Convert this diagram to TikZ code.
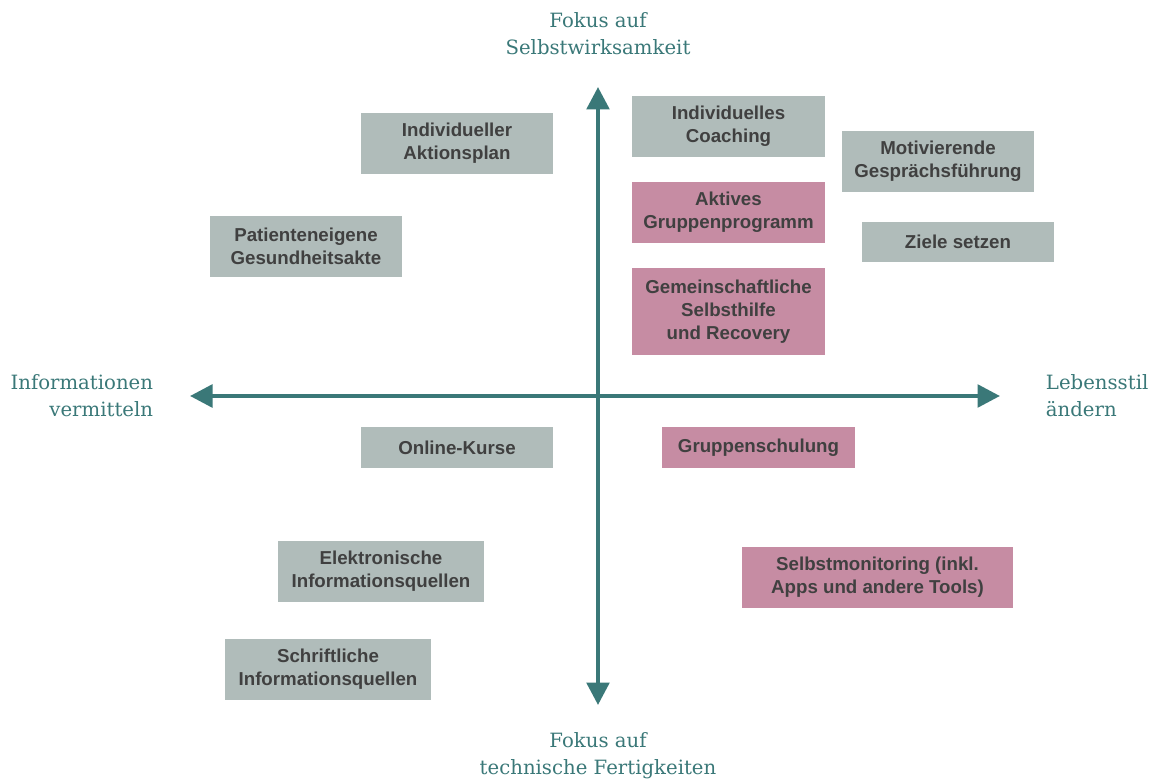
\documentclass[tikz,border=0pt]{standalone}
\usepackage{fontspec}
\setmainfont{Liberation Sans}
\newfontfamily\axisfont{DejaVu Serif}
\usepackage{tikz}
\usetikzlibrary{arrows.meta}
\definecolor{axisteal}{RGB}{58, 120, 120}
\definecolor{infogray}{RGB}{176, 188, 186}
\definecolor{grouppink}{RGB}{198, 140, 163}
\definecolor{labeldark}{RGB}{64, 64, 64}

\begin{document}
\begin{tikzpicture}[x=0.025cm, y=-0.025cm,
  box/.style={rectangle, inner sep=2pt, align=center, text=labeldark,
    font=\fontsize{13.3}{16.5}\selectfont\bfseries, minimum width=4.8cm, minimum height=1.525cm},
  graybox/.style={box, fill=infogray},
  pinkbox/.style={box, fill=grouppink},
  axislabel/.style={text=axisteal, font=\axisfont\fontsize{14}{19}\selectfont},
  axis/.style={line width=3pt, axisteal, -{Triangle[length=16pt, width=16pt]}}]

\useasboundingbox (0,0) rectangle (1158,781);

% Axis origin and ends
\coordinate (origin) at (598,396);
\coordinate (top) at (598,87);
\coordinate (bottom) at (598,705);
\coordinate (left) at (190,396);
\coordinate (right) at (1000,396);

% Axes
\draw[axis] (origin) -- (top);
\draw[axis] (origin) -- (bottom);
\draw[axis] (origin) -- (left);
\draw[axis] (origin) -- (right);

% Axis labels
\node[axislabel, align=center] at (598,34) (self) {Fokus auf\\Selbstwirksamkeit};
\node[axislabel, align=center] at (598,756) (skills) {Fokus auf\\technische Fertigkeiten};
\node[axislabel, align=right, anchor=east] at (158,396) (inform) {Informationen\\vermitteln};
\node[axislabel, align=left, anchor=west] at (1041,396) (lifestyle) {Lebensstil\\ändern};

% Upper half
\node[graybox] at (457,143.5) (aktionsplan) {Individueller\\Aktionsplan};
\node[graybox] at (728.5,126.5) (coaching) {Individuelles\\Coaching};
\node[graybox] at (938,161.5) (motivation) {Motivierende\\Gesprächsführung};
\node[pinkbox] at (728.5,212.5) (aktiv) {Aktives\\Gruppenprogramm};
\node[graybox, minimum height=1cm] at (958,242) (ziele) {Ziele setzen};
\node[graybox] at (306,246.5) (akte) {Patienteneigene\\Gesundheitsakte};
\node[pinkbox, minimum height=2.175cm] at (728.5,311.5) (selbsthilfe) {Gemeinschaftliche\\Selbsthilfe\\und Recovery};

% Lower half
\node[graybox, minimum height=1cm] at (457,447.5) (online) {Online-Kurse};
\node[pinkbox, minimum height=1cm] at (758.5,447.5) (schulung) {Gruppenschulung};
\node[graybox, minimum width=5.15cm] at (381,571.5) (elektronisch) {Elektronische\\Informationsquellen};
\node[pinkbox, minimum width=6.775cm] at (877.5,577.5) (monitoring) {Selbstmonitoring (inkl.\\Apps und andere Tools)};
\node[graybox, minimum width=5.15cm] at (328,669.5) (schriftlich) {Schriftliche\\Informationsquellen};

\end{tikzpicture}
\end{document}
